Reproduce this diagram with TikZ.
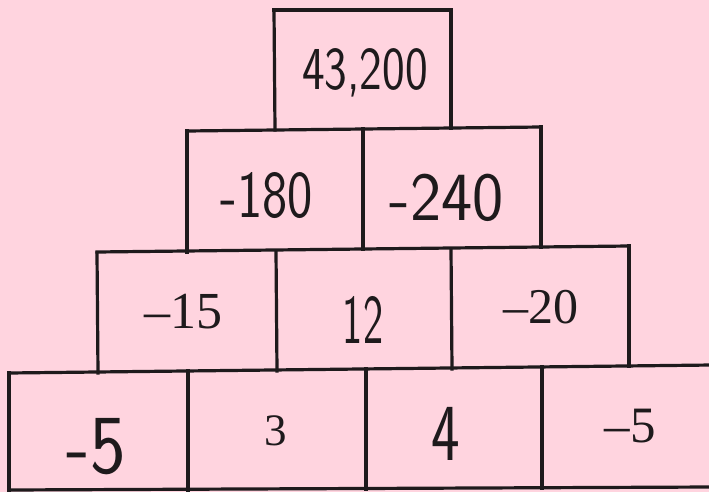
\documentclass[tikz,border=0pt]{standalone}
\usepackage{graphicx}
\usepackage{fontspec}
\newfontfamily\printfont[Ligatures=TeX]{Liberation Serif}
\definecolor{paper}{RGB}{255,212,223}
\definecolor{ink}{RGB}{30,26,28}
\newcommand\hw[3]{\scalebox{#2}[1]{\fontsize{#1}{#1}\selectfont\sffamily #3}}
\newcommand\pr[2]{\fontsize{#1}{#1}\selectfont\printfont #2}
\tikzset{
  grid/.style={draw=ink, line width=3.2pt, line cap=rect},
  num/.style={anchor=base, inner sep=0pt, text=ink}
}
\begin{document}
\begin{tikzpicture}[x=1pt,y=-1pt]
\useasboundingbox (0,0) rectangle (709,492);
\fill[paper] (0,0) rectangle (709,492);
% horizontal lines
\draw[grid] (274,10) -- (451,10);
\draw[grid] (187,131) -- (541,127);
\draw[grid] (97,252) -- (629,246);
\draw[grid] (9,373) -- (712,365);
\draw[grid] (9,490) -- (712,487);
% top box
\draw[grid] (274,10) -- (275,130);
\draw[grid] (451,10) -- (451,128);
% row 2
\draw[grid] (187,131) -- (187,252);
\draw[grid] (363,129) -- (363,249);
\draw[grid] (541,127) -- (541,247);
% row 3
\draw[grid] (97,253) -- (98,373);
\draw[grid] (276,251) -- (277,371);
\draw[grid] (451,249) -- (452,369);
\draw[grid] (629,246) -- (629,366);
% row 4
\draw[grid] (9,373) -- (9,490);
\draw[grid] (188,371) -- (188,490);
\draw[grid] (366,369) -- (366,489);
\draw[grid] (542,367) -- (542,488);
% numbers
\node[num] (top) at (365,90) {\hw{61pt}{0.79}{43,200}};
\node[num] (a1) at (267,217) {\hw{67pt}{0.8}{-180}};
\node[num] (a2) at (447,220) {\hw{69pt}{0.96}{-240}};
\node[num] (b1) at (183,328) {\pr{52pt}{\textendash15}};
\node[num] (b2) at (363,343) {\hw{70pt}{0.61}{12}};
\node[num] (b3) at (541,323) {\pr{50pt}{\textendash20}};
\node[num] (c1) at (96,473) {\hw{84pt}{0.9}{-5}};
\node[num] (c2) at (276,445) {\pr{45pt}{3}};
\node[num] (c3) at (446,460) {\hw{81pt}{0.75}{4}};
\node[num] (c4) at (630,442) {\pr{51pt}{\textendash5}};
\end{tikzpicture}
\end{document}
